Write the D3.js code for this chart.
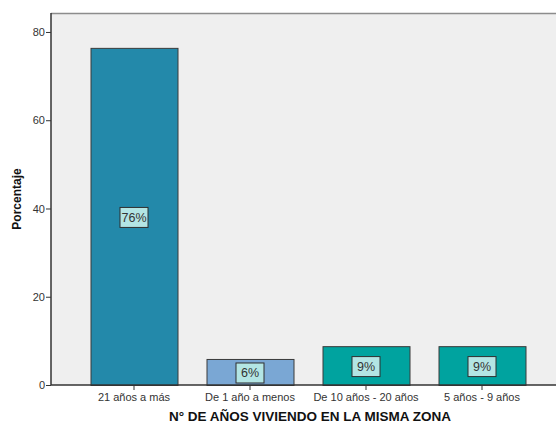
<!DOCTYPE html>
<html>
<head>
<meta charset="utf-8">
<script src="https://cdn.jsdelivr.net/npm/d3@7"></script>
<style>
  html, body { margin: 0; padding: 0; background: #ffffff; }
  svg { display: block; font-family: "Liberation Sans", Arial, sans-serif; }
</style>
</head>
<body>
<svg id="chart" width="556" height="423"></svg>
<script>
// Years living in the same area: share of respondents (%)
const categories = ["21 años a más", "De 1 año a menos", "De 10 años - 20 años", "5 años - 9 años"];
const percentages = [76.4, 5.9, 8.8, 8.8];
const barColors = ["#2389aa", "#7aa7d4", "#00a39f", "#00a39f"];
const yTicks = [0, 20, 40, 60, 80];
const yTitle = "Porcentaje";
const xTitle = "N° DE AÑOS VIVIENDO EN LA MISMA ZONA";

const svg = d3.select("#chart");
const plot = { left: 51, top: 13, right: 560, bottom: 385 };

const y = d3.scaleLinear().domain([0, 84.3]).range([plot.bottom, plot.top]);
const x = d3.scaleBand().domain(categories).range([76, 540])
  .paddingInner(0.25).paddingOuter(0.125);

// plot area
svg.append("rect")
  .attr("x", plot.left).attr("y", plot.top)
  .attr("width", plot.right - plot.left).attr("height", plot.bottom - plot.top)
  .attr("fill", "#efefef");
svg.append("line")
  .attr("x1", plot.left).attr("x2", plot.right)
  .attr("y1", plot.top + 0.5).attr("y2", plot.top + 0.5)
  .attr("stroke", "#8c8c8c").attr("stroke-width", 1.5);

// bars
svg.append("g").selectAll("rect")
  .data(categories)
  .join("rect")
  .attr("x", d => x(d) + 0.5)
  .attr("y", (d, i) => y(percentages[i]) + 0.5)
  .attr("width", x.bandwidth())
  .attr("height", (d, i) => y(0) - y(percentages[i]))
  .attr("fill", (d, i) => barColors[i])
  .attr("stroke", "#3a3a3a")
  .attr("stroke-width", 1);

// value labels in boxes
const fmt = v => d3.format(".0f")(v) + "%";
const labels = svg.append("g").selectAll("g")
  .data(categories)
  .join("g")
  .attr("transform", (d, i) =>
    `translate(${x(d) + x.bandwidth() / 2},${(y(percentages[i]) + y(0)) / 2 + 1})`);
labels.append("rect")
  .attr("x", -14).attr("y", -10).attr("width", 28).attr("height", 20)
  .attr("fill", "#b3e5e4").attr("stroke", "#2f2f2f").attr("stroke-width", 1);
labels.append("text")
  .attr("text-anchor", "middle").attr("dy", "0.36em")
  .attr("font-size", 12.5).attr("fill", "#333")
  .text((d, i) => fmt(percentages[i]));

// y axis
const yAxis = svg.append("g")
  .attr("transform", `translate(${plot.left},0)`)
  .call(d3.axisLeft(y).tickValues(yTicks).tickSize(5).tickSizeOuter(0));
yAxis.select(".domain").attr("stroke", "#333").attr("stroke-width", 1.5)
  .attr("d", `M0,${plot.top}V${plot.bottom}`);
yAxis.selectAll(".tick line").attr("stroke", "#333");
yAxis.selectAll(".tick text").attr("font-size", 11).attr("fill", "#333")
  .attr("font-family", "Liberation Sans, Arial, sans-serif").attr("x", -6);

// x axis
const xAxis = svg.append("g")
  .attr("transform", `translate(0,${plot.bottom})`)
  .call(d3.axisBottom(x).tickSize(5).tickSizeOuter(0));
xAxis.select(".domain").attr("stroke", "#333").attr("stroke-width", 1.5)
  .attr("d", `M${plot.left},0H${plot.right}`);
xAxis.selectAll(".tick line").attr("stroke", "#333");
xAxis.selectAll(".tick text").attr("font-size", 11).attr("fill", "#333")
  .attr("font-family", "Liberation Sans, Arial, sans-serif").attr("y", 8);

// axis titles
svg.append("text")
  .attr("transform", `translate(21,${(plot.top + plot.bottom) / 2}) rotate(-90)`)
  .attr("text-anchor", "middle")
  .attr("font-size", 12).attr("font-weight", "bold").attr("fill", "#111")
  .text(yTitle);
svg.append("text")
  .attr("x", 310).attr("y", 421)
  .attr("text-anchor", "middle")
  .attr("font-size", 13.5).attr("font-weight", "bold").attr("fill", "#111")
  .text(xTitle);
</script>
</body>
</html>
